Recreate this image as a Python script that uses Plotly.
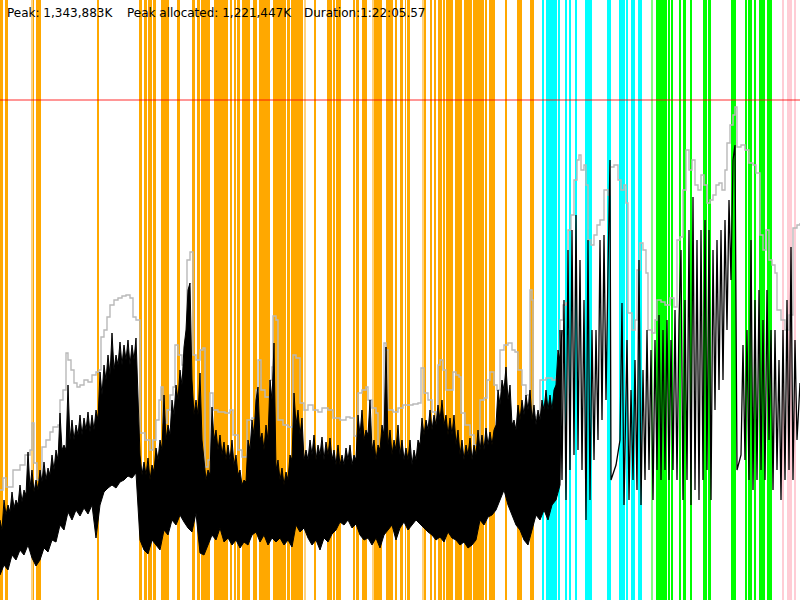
import plotly.graph_objects as go

# ---------------- data (time in ~6.16 s units, memory in ~2.7 MB units) ----------------
heap_limit = 500

# GC pause bands (start, end)
orange_bands = [(0, 2.5), (5, 7.5), (33, 34), (36, 41), (97, 99),
                (139, 142), (144, 147), (148, 152), (153, 156), (161, 169), (177, 180),
                (192, 195), (197, 200), (201, 210), (214, 228), (230, 232), (234, 236),
                (237, 240), (242, 250), (253, 257), (259, 270),
                (273, 286), (287, 288), (288.5, 290), (291, 303), (314, 316), (327, 332),
                (333, 335), (336, 341), (353, 355), (356, 359), (362, 367), (374, 375.5),
                (376, 382), (386, 393), (395, 397), (400, 403),
                (405, 406), (407, 410), (424, 426), (430, 431.5), (434, 436), (438, 442),
                (443, 445), (446, 453), (455, 462), (464, 472), (473, 484), (485, 487),
                (489, 495), (505, 507.3), (517, 522), (530, 534)]
orange_light_bands = [(31, 32.5), (304, 305.5), (372, 374), (422, 423.5)]
cyan_bands = [(542, 544), (546, 557), (558, 559.3), (565, 566.3), (569, 571.3), (575, 576.3),
              (585.3, 592), (607, 611), (619, 625), (626, 627.3), (631, 635.3), (637.7, 641.7)]
green_bands = [(656, 667.3), (668, 670), (671, 673.3), (679, 681), (683, 686), (690, 692),
               (703, 707.3), (708.3, 711), (731, 736), (745, 747), (747.7, 752.3), (754, 756),
               (759, 763), (763.7, 765), (766.7, 772.3)]
green_light_bands = [(651, 653.3)]
pink_bands = [(782, 783.3), (786.7, 792), (794.7, 795.7)]

# allocated heap, dense part: upper edge sampled every 2 time units from 0
alloc_top = [80, 70, 100, 85, 95, 88, 108, 92, 100, 95, 115, 98, 110, 105, 148, 112, 130, 108, 120, 110,
             130, 118, 138, 120, 132, 125, 145, 130, 150, 140, 187, 150, 155, 150, 215, 160, 180, 160, 175, 165,
             185, 165, 182, 170, 188, 168, 185, 170, 190, 180, 228, 205, 235, 220, 245, 225, 267, 230, 245, 235,
             258, 235, 255, 240, 260, 235, 255, 240, 262, 200, 145, 125, 138, 125, 142, 120, 135, 128, 152, 140,
             160, 150, 205, 160, 175, 165, 200, 185, 215, 200, 230, 215, 253, 270, 310, 317, 220, 185, 200, 185,
             227, 160, 140, 120, 130, 125, 193, 160, 170, 150, 165, 145, 158, 140, 155, 140, 160, 135, 145, 125,
             130, 115, 120, 118, 160, 150, 180, 165, 200, 213, 160, 167, 150, 175, 160, 220, 200, 257, 130, 140,
             120, 132, 115, 128, 120, 145, 140, 207, 175, 190, 165, 182, 140, 150, 140, 160, 145, 165, 140, 155,
             145, 163, 140, 158, 145, 162, 140, 150, 135, 155, 135, 145, 135, 152, 140, 155, 135, 145, 140, 185,
             165, 190, 160, 170, 165, 200, 150, 160, 140, 155, 150, 175, 165, 253, 155, 170, 145, 160, 150, 175,
             145, 160, 140, 152, 140, 160, 135, 150, 140, 160, 155, 182, 165, 180, 170, 190, 170, 185, 175, 195,
             180, 200, 175, 185, 165, 182, 165, 185, 155, 170, 145, 160, 140, 155, 145, 162, 140, 155, 145, 170,
             150, 165, 150, 172, 155, 168, 155, 170, 175, 210, 195, 220, 210, 233, 200, 215, 175, 180, 170, 195,
             180, 200, 185, 205, 190, 210, 180, 195, 175, 190, 180, 200, 190, 210, 190, 205, 190, 210, 215, 250,
             240, 270]
alloc_top_t = list(range(0, 2 * len(alloc_top), 2))

# lower edge sampled every 4 time units from 0
alloc_bot = [25, 35, 30, 45, 40, 50, 45, 55, 42, 34,
             40, 52, 48, 60, 58, 75, 70, 88, 80, 90,
             84, 92, 86, 95, 62, 95, 108, 112, 115, 112,
             118, 120, 124, 122, 127, 60, 50, 46, 60, 55,
             50, 70, 65, 80, 75, 85, 78, 72, 68, 87,
             47, 45, 55, 65, 60, 72, 58, 62, 55, 60,
             52, 58, 55, 65, 68, 58, 65, 55, 62, 58,
             62, 55, 60, 53, 75, 68, 72, 62, 55, 60,
             50, 62, 58, 66, 70, 78, 75, 80, 72, 76,
             65, 60, 62, 55, 62, 52, 65, 70, 75, 60,
             72, 78, 70, 75, 80, 75, 72, 68, 65, 60,
             63, 58, 68, 62, 60, 55, 58, 52, 55, 60,
             80, 75, 83, 85, 90, 100, 110, 95, 85, 75,
             70, 60, 55, 70, 85, 80, 90, 80, 95, 100,
             115]
alloc_bot_t = list(range(0, 4 * len(alloc_bot), 4))

# allocated heap: sparse tail
tail_t = [560, 562, 564, 566, 568, 570, 572, 574, 576, 578, 580, 582, 584, 586, 588, 590, 592, 594,
          596, 598, 600, 602, 604, 606, 608, 610, 611, 616, 620, 622, 624, 627, 629, 631, 633, 635,
          637, 639, 641, 643, 645, 647, 649, 651, 653, 655, 657, 659, 661, 663, 665, 667, 669, 671,
          673, 675, 677, 679, 681, 683, 685, 687, 689, 691, 693, 695, 697, 699, 701, 703, 705, 707,
          709, 711, 713, 715, 717, 719, 721, 723, 725, 727, 729, 731, 733, 735, 737, 741, 743, 745,
          747, 749, 751, 753, 755, 757, 759, 761, 763, 765, 767, 769, 771, 773, 775, 777, 779, 781,
          783, 785, 787, 789, 791, 793, 795, 797, 800]
tail_mem = [270, 120, 300, 100, 350, 130, 370, 145, 385, 150, 340, 130, 300, 80, 360, 100, 270, 140,
            270, 160, 360, 180, 365, 200, 330, 440, 120, 135, 160, 297, 95, 260, 100, 210, 120, 240,
            110, 340, 95, 230, 120, 270, 130, 250, 100, 260, 130, 285, 120, 270, 130, 280, 120, 260,
            130, 290, 120, 280, 350, 100, 300, 120, 370, 95, 403, 110, 360, 100, 370, 120, 380, 130,
            370, 100, 350, 190, 360, 210, 370, 220, 380, 270, 400, 320, 440, 455, 130, 145, 255, 140,
            270, 120, 360, 110, 300, 120, 310, 130, 280, 120, 310, 160, 270, 110, 270, 130, 240, 100,
            270, 120, 300, 130, 353, 120, 260, 160, 217]

# committed heap (step line)
committed_t = [0, 3, 6, 13, 20, 25, 30, 32, 34, 37, 40, 42, 46, 50, 53, 58, 60, 63, 66, 68, 71, 74, 77,
               80, 84, 88, 92, 96, 99, 101, 104, 107, 110, 114, 118, 122, 126, 130, 133, 136, 140,
               145, 150, 153, 156, 159, 161, 163, 167, 170, 173, 175, 178, 182, 185, 187, 190, 193,
               196, 200, 203, 205, 208, 210, 213, 218, 225, 230, 233, 238, 242, 247, 252, 256, 258,
               261, 265, 270, 272, 273, 276, 278, 283, 288, 293, 296, 300, 304, 308, 313, 318, 322,
               328, 333, 340, 346, 350, 354, 358, 362, 366, 368, 372, 376, 378, 381, 384, 386, 388,
               393, 398, 403, 408, 413, 418, 421, 424, 428, 432, 436, 438, 440, 443, 446, 450, 453,
               456, 459, 461, 465, 470, 474, 478, 480, 484, 487, 490, 494, 497, 500, 504, 508, 512,
               515, 518, 522, 526, 529, 530, 532, 533, 537, 540, 546, 552, 556, 560, 563, 566, 568,
               571, 574, 577, 579, 581, 584, 586, 588, 591, 594, 597, 600, 604, 608, 610, 614, 618,
               621, 624, 626, 628, 632, 635, 637, 640, 643, 646, 648, 652, 655, 657, 661, 665, 670,
               674, 677, 680, 683, 686, 689, 692, 695, 698, 701, 704, 707, 710, 713, 716, 719, 722,
               725, 727, 730, 733, 735, 737, 741, 745, 749, 753, 756, 760, 763, 766, 769, 772, 775,
               777, 781, 785, 789, 793, 797, 800]
committed = [110, 122, 113, 130, 135, 145, 150, 177, 137, 120, 113, 153, 160, 168, 173, 175, 200, 210,
             247, 240, 230, 217, 213, 215, 220, 218, 225, 228, 230, 263, 270, 283, 295, 300, 302, 304,
             305, 302, 283, 280, 167, 160, 150, 160, 180, 200, 213, 177, 190, 205, 213, 255, 245, 235,
             230, 340, 348, 245, 240, 250, 252, 133, 140, 207, 190, 188, 187, 190, 165, 150, 143, 180,
             182, 210, 240, 210, 203, 220, 233, 284, 280, 180, 175, 173, 245, 242, 197, 190, 195, 190,
             188, 192, 190, 182, 180, 183, 182, 164, 207, 210, 213, 200, 192, 187, 147, 145, 257, 250,
             190, 188, 192, 195, 195, 196, 197, 232, 207, 200, 188, 180, 235, 240, 230, 210, 210, 228,
             225, 223, 187, 175, 165, 155, 153, 200, 202, 220, 228, 215, 210, 250, 255, 257, 250, 248,
             230, 215, 205, 200, 310, 300, 183, 185, 220, 222, 220, 223, 280, 295, 297, 370, 385, 420,
             440, 445, 430, 435, 415, 360, 355, 365, 375, 380, 410, 405, 433, 435, 420, 410, 415, 397,
             287, 270, 280, 330, 357, 350, 327, 270, 267, 280, 300, 298, 295, 302, 293, 360, 363, 410,
             450, 430, 440, 415, 410, 425, 415, 397, 400, 405, 415, 417, 410, 430, 457, 475, 485, 493,
             453, 455, 450, 437, 435, 427, 365, 350, 370, 340, 335, 327, 290, 280, 270, 285, 372, 375,
             377]

header_texts = ["Peak: 1,343,883K", "Peak allocated: 1,221,447K", "Duration:1:22:05.57"]

# ---------------- figure ----------------
fig = go.Figure()


def add_bands(bands, color):
    fig.add_trace(go.Bar(
        x=[(s + e) / 2 for s, e in bands],
        y=[1] * len(bands),
        width=[e - s for s, e in bands],
        marker=dict(color=color, line=dict(width=0)),
        xaxis="x", yaxis="y", showlegend=False, hoverinfo="skip"))


add_bands(orange_bands, "rgb(255,168,0)")
add_bands(orange_light_bands, "rgba(255,168,0,0.5)")
add_bands(cyan_bands, "rgb(0,255,255)")
add_bands(green_bands, "rgb(0,255,0)")
add_bands(green_light_bands, "rgba(0,255,0,0.5)")
add_bands(pink_bands, "rgb(255,204,213)")

fig.add_trace(go.Scatter(
    x=committed_t, y=committed, mode="lines", line=dict(color="rgb(185,185,185)", width=1.4, shape="hv"),
    xaxis="x", yaxis="y2", showlegend=False, hoverinfo="skip"))

fig.add_trace(go.Scatter(
    x=alloc_top_t + alloc_bot_t[::-1], y=alloc_top + alloc_bot[::-1],
    mode="lines", fill="toself", fillcolor="black", line=dict(color="black", width=1),
    xaxis="x", yaxis="y2", showlegend=False, hoverinfo="skip"))

fig.add_trace(go.Scatter(
    x=tail_t, y=tail_mem, mode="lines", line=dict(color="black", width=1.3),
    xaxis="x", yaxis="y2", showlegend=False, hoverinfo="skip"))

fig.add_shape(type="line", xref="paper", x0=0, x1=1, yref="y2", y0=heap_limit, y1=heap_limit,
              line=dict(color="rgba(255,0,0,0.55)", width=1.5), layer="above")

for txt, xp in zip(header_texts, [5, 125, 302]):
    fig.add_annotation(text=txt, xref="paper", yref="paper", x=xp / 800, y=1 - 13 / 600,
                       xanchor="left", yanchor="middle", showarrow=False,
                       font=dict(family="DejaVu Sans", size=12, color="black"))

fig.update_layout(
    width=800, height=600, margin=dict(l=0, r=0, t=0, b=0),
    paper_bgcolor="white", plot_bgcolor="white", barmode="overlay", bargap=0,
    xaxis=dict(range=[0, 800], visible=False, fixedrange=True),
    yaxis=dict(range=[0, 1], visible=False, fixedrange=True),
    yaxis2=dict(range=[0, 600], visible=False, overlaying="y", fixedrange=True),
)

fig.write_html("out.html", config={"displayModeBar": False},
               post_script="document.body.style.margin='0px';document.body.style.overflow='hidden';")
